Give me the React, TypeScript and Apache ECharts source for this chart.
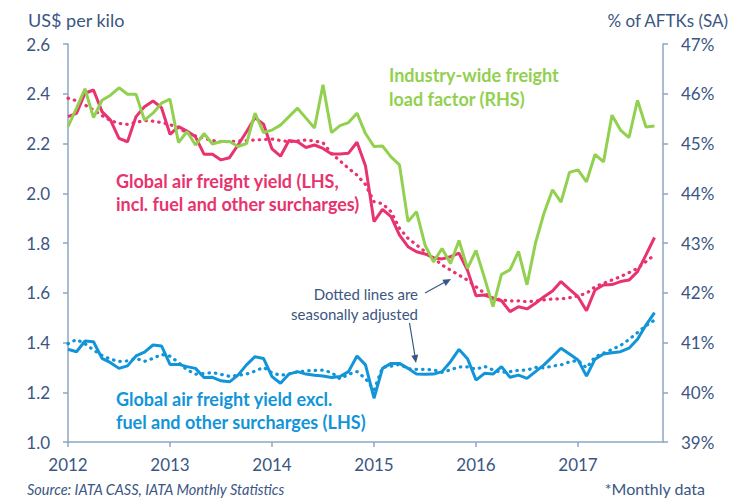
import React, { useEffect, useRef } from "react";
import * as echarts from "echarts";

const startYear = 2012;
const monthCount = 71; // Jan 2012 .. Nov 2017 (axis end)

const loadFactor = [
  45.34, 45.71, 46.1, 45.52, 45.87, 45.97, 46.12, 45.99, 45.99, 45.47, 45.61, 45.81,
  45.89, 45.02, 45.24, 44.97, 45.2, 44.99, 45.04, 45.04, 44.94, 45.0, 45.61, 45.22,
  45.27, 45.37, 45.54, 45.71, 45.51, 45.31, 46.18, 45.22, 45.36, 45.42, 45.61, 45.2,
  44.94, 44.95, 44.73, 44.57, 43.43, 43.63, 42.96, 42.62, 42.89, 42.59, 43.05, 42.49,
  42.85, 42.3, 41.72, 42.37, 42.46, 42.83, 42.16, 43.0, 43.6, 44.07, 43.82, 44.42,
  44.47, 44.23, 44.78, 44.63, 45.57, 45.27, 45.12, 45.87, 45.33, 45.35,
];

const yieldIncl = [
  2.308, 2.321, 2.402, 2.415, 2.328, 2.294, 2.221, 2.207, 2.308, 2.348, 2.371, 2.344,
  2.237, 2.268, 2.25, 2.227, 2.157, 2.157, 2.134, 2.143, 2.194, 2.247, 2.304, 2.278,
  2.178, 2.149, 2.212, 2.207, 2.184, 2.194, 2.18, 2.158, 2.158, 2.161, 2.205, 2.11,
  1.886, 1.935, 1.906, 1.832, 1.785, 1.765, 1.756, 1.741, 1.736, 1.745, 1.759, 1.69,
  1.588, 1.591, 1.578, 1.568, 1.524, 1.544, 1.535, 1.558, 1.584, 1.607, 1.645, 1.614,
  1.584, 1.528, 1.611, 1.631, 1.633, 1.645, 1.651, 1.685, 1.752, 1.822,
];

const yieldInclSA = [
  2.382, 2.372, 2.355, 2.335, 2.312, 2.292, 2.281, 2.277, 2.285, 2.292, 2.29, 2.284,
  2.276, 2.262, 2.243, 2.23, 2.221, 2.212, 2.207, 2.208, 2.21, 2.212, 2.214, 2.216,
  2.218, 2.212, 2.207, 2.21, 2.214, 2.21, 2.203, 2.16, 2.13, 2.1, 2.073, 2.035,
  1.966, 1.958, 1.926, 1.859, 1.819, 1.792, 1.765, 1.739, 1.712, 1.691, 1.671, 1.651,
  1.624, 1.598, 1.578, 1.571, 1.567, 1.567, 1.564, 1.567, 1.571, 1.575, 1.575, 1.58,
  1.587, 1.598, 1.624, 1.638, 1.651, 1.665, 1.681, 1.698, 1.725, 1.752,
];

const yieldExcl = [
  1.373, 1.363, 1.406, 1.403, 1.336, 1.319, 1.296, 1.306, 1.346, 1.361, 1.39, 1.386,
  1.312, 1.312, 1.303, 1.296, 1.259, 1.26, 1.246, 1.242, 1.269, 1.31, 1.343, 1.336,
  1.263, 1.236, 1.273, 1.283, 1.273, 1.268, 1.265, 1.259, 1.263, 1.283, 1.346, 1.31,
  1.176, 1.296, 1.316, 1.316, 1.296, 1.273, 1.272, 1.273, 1.283, 1.323, 1.372, 1.335,
  1.249, 1.276, 1.273, 1.303, 1.26, 1.269, 1.256, 1.283, 1.31, 1.343, 1.377, 1.354,
  1.33, 1.265, 1.333, 1.354, 1.359, 1.363, 1.377, 1.413, 1.47, 1.52,
];

const yieldExclSA = [
  1.395, 1.412, 1.395, 1.37, 1.348, 1.333, 1.324, 1.326, 1.336, 1.324, 1.336, 1.352,
  1.345, 1.32, 1.29, 1.273, 1.275, 1.279, 1.272, 1.264, 1.268, 1.273, 1.285, 1.3,
  1.278, 1.268, 1.274, 1.282, 1.286, 1.288, 1.289, 1.279, 1.254, 1.272, 1.283, 1.255,
  1.209, 1.3, 1.305, 1.312, 1.295, 1.292, 1.292, 1.29, 1.28, 1.29, 1.302, 1.302,
  1.292, 1.304, 1.29, 1.28, 1.283, 1.288, 1.289, 1.3, 1.298, 1.305, 1.31, 1.322,
  1.328, 1.298, 1.342, 1.357, 1.372, 1.388, 1.412, 1.44, 1.468, 1.49,
];

const leftTicks = { min: 1.0, max: 2.6, interval: 0.2 };
const rightTicks = { min: 39, max: 47, interval: 1 };

const months: string[] = Array.from({ length: monthCount }, (_, i) =>
  `${startYear + Math.floor(i / 12)}-${String((i % 12) + 1).padStart(2, "0")}`
);

const GREEN = "#92D050";
const PINK = "#E8336E";
const BLUE = "#1195D8";
const TEXT = "#3A5683";
const AXIS = "#8EA6C4";
const FONT = "Lato, 'Open Sans', sans-serif";

export default function App() {
  const ref = useRef<HTMLDivElement>(null);

  useEffect(() => {
    document.body.style.margin = "0";
    const chart = echarts.init(ref.current!, null, { renderer: "svg" });
    const yearTick = (idx: number) => idx % 12 === 0 && idx < 70;
    const dotted = [0.5, 6];
    chart.setOption({
      animation: false,
      backgroundColor: "#ffffff",
      grid: { left: 68, right: 75, top: 44, bottom: 59 },
      xAxis: {
        type: "category",
        data: months,
        boundaryGap: false,
        axisLine: { show: true, lineStyle: { color: AXIS, width: 1.5 } },
        axisTick: { show: true, interval: yearTick, length: 5, lineStyle: { color: AXIS, width: 1.5 } },
        axisLabel: {
          interval: yearTick,
          margin: 14,
          color: TEXT,
          fontFamily: FONT,
          fontSize: 17,
          formatter: (v: string) => v.slice(0, 4),
        },
        splitLine: { show: false },
      },
      yAxis: [
        {
          type: "value",
          min: leftTicks.min,
          max: leftTicks.max,
          interval: leftTicks.interval,
          axisLine: { show: true, lineStyle: { color: AXIS, width: 1.5 } },
          axisTick: { show: true, length: 5, lineStyle: { color: AXIS, width: 1.5 } },
          axisLabel: {
            margin: 18,
            color: TEXT,
            fontFamily: FONT,
            fontSize: 17,
            formatter: (v: number) => v.toFixed(1),
          },
          splitLine: { show: false },
        },
        {
          type: "value",
          position: "right",
          min: rightTicks.min,
          max: rightTicks.max,
          interval: rightTicks.interval,
          axisLine: { show: true, lineStyle: { color: AXIS, width: 1.5 } },
          axisTick: { show: true, length: 5, lineStyle: { color: AXIS, width: 1.5 } },
          axisLabel: {
            margin: 18,
            color: TEXT,
            fontFamily: FONT,
            fontSize: 17,
            formatter: (v: number) => `${Math.round(v)}%`,
          },
          splitLine: { show: false },
        },
      ],
      series: [
        {
          type: "line", yAxisIndex: 0, data: yieldExclSA, showSymbol: false, z: 2,
          lineStyle: { color: BLUE, width: 3.2, type: dotted, cap: "round" },
        },
        {
          type: "line", yAxisIndex: 0, data: yieldExcl, showSymbol: false, z: 3,
          lineStyle: { color: BLUE, width: 3 },
        },
        {
          type: "line", yAxisIndex: 0, data: yieldInclSA, showSymbol: false, z: 2,
          lineStyle: { color: PINK, width: 3.2, type: dotted, cap: "round" },
        },
        {
          type: "line", yAxisIndex: 0, data: yieldIncl, showSymbol: false, z: 3,
          lineStyle: { color: PINK, width: 3 },
        },
        {
          type: "line", yAxisIndex: 1, data: loadFactor, showSymbol: false, z: 4,
          lineStyle: { color: GREEN, width: 3 },
        },
      ],
      graphic: [
        { type: "text", x: 28, y: 20, style: { text: "US$ per kilo", fill: TEXT, font: `18px ${FONT}`, verticalAlign: "middle" } },
        { type: "text", x: 728, y: 20, style: { text: "% of AFTKs (SA)", fill: TEXT, font: `17px ${FONT}`, align: "right", verticalAlign: "middle" } },
        { type: "text", x: 389, y: 75, style: { text: "Industry-wide freight", fill: GREEN, font: `bold 18px ${FONT}`, verticalAlign: "middle" } },
        { type: "text", x: 389, y: 98.5, style: { text: "load factor (RHS)", fill: GREEN, font: `bold 18px ${FONT}`, verticalAlign: "middle" } },
        { type: "text", x: 116, y: 181, style: { text: "Global air freight yield (LHS,", fill: PINK, font: `bold 18px ${FONT}`, verticalAlign: "middle" } },
        { type: "text", x: 116, y: 204, style: { text: "incl. fuel and other surcharges)", fill: PINK, font: `bold 18px ${FONT}`, verticalAlign: "middle" } },
        { type: "text", x: 116, y: 398.5, style: { text: "Global air freight yield excl.", fill: BLUE, font: `bold 18px ${FONT}`, verticalAlign: "middle" } },
        { type: "text", x: 116, y: 422, style: { text: "fuel and other surcharges (LHS)", fill: BLUE, font: `bold 18px ${FONT}`, verticalAlign: "middle" } },
        { type: "text", x: 418, y: 294, style: { text: "Dotted lines are", fill: TEXT, font: `15px ${FONT}`, align: "right", verticalAlign: "middle" } },
        { type: "text", x: 418, y: 314, style: { text: "seasonally adjusted", fill: TEXT, font: `15px ${FONT}`, align: "right", verticalAlign: "middle" } },
        { type: "line", shape: { x1: 425, y1: 293, x2: 446, y2: 281.5 }, style: { stroke: TEXT, lineWidth: 1.2 } },
        { type: "polygon", shape: { points: [[451, 279], [445.7, 285.9], [442.4, 279.7]] }, style: { fill: TEXT } },
        { type: "line", shape: { x1: 409.5, y1: 323, x2: 415, y2: 356 }, style: { stroke: TEXT, lineWidth: 1.2 } },
        { type: "polygon", shape: { points: [[416, 363], [418.2, 354.5], [411.3, 355.7]] }, style: { fill: TEXT } },
        { type: "text", x: 27, y: 489, style: { text: "Source: IATA CASS, IATA Monthly Statistics", fill: TEXT, font: `italic 14.5px ${FONT}`, verticalAlign: "middle" } },
        { type: "text", x: 705, y: 488, style: { text: "*Monthly data", fill: TEXT, font: `16px ${FONT}`, align: "right", verticalAlign: "middle" } },
      ],
    });
    return () => chart.dispose();
  }, []);

  return <div ref={ref} style={{ width: 738, height: 501 }} />;
}
